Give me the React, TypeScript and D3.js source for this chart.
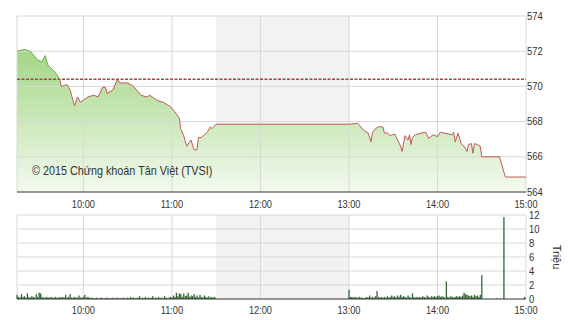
import React from "react";
import * as d3 from "d3";

const priceTimes = [
  "9:15","9:20","9:24","9:27","9:29","9:32","9:34","9:36","9:41","9:44","9:45","9:49","9:51","9:53","9:54","9:56","9:58",
  "10:03","10:07","10:10","10:13","10:15","10:16","10:20","10:23","10:25","10:30","10:34","10:36","10:39","10:43","10:45","10:50","10:54","10:59",
  "11:02","11:05","11:06","11:08","11:10","11:13","11:15","11:17","11:18","11:20","11:24","11:26","11:27","11:30",
  "13:00","13:06","13:10","13:13","13:15","13:16","13:18","13:20","13:23","13:24","13:26","13:28","13:31","13:33","13:35","13:36","13:38","13:40","13:41","13:42","13:43","13:45","13:49","13:52","13:54","13:57",
  "14:00","14:02","14:07","14:10","14:11","14:12","14:14","14:16","14:18","14:20","14:21","14:23","14:24","14:25","14:27","14:29","14:30","14:42","14:46","15:00"
];
const priceValues = [
  572.0,572.1,572.0,571.7,571.5,571.4,571.75,571.2,570.8,570.4,570.0,570.1,569.8,569.2,568.9,569.4,569.1,
  569.4,569.5,569.4,569.95,569.95,569.6,569.8,570.4,570.2,570.2,570.0,569.8,569.5,569.4,569.5,569.2,569.1,568.85,
  568.55,568.2,567.6,567.2,566.6,566.95,566.4,566.4,567.1,567.1,567.4,567.7,567.6,567.85,
  567.85,567.9,567.5,567.35,566.85,567.4,567.6,567.7,567.7,567.35,567.35,567.2,567.3,566.95,566.6,566.3,567.2,566.95,567.25,566.7,567.1,567.25,567.35,567.4,567.05,567.25,
  567.15,567.4,567.3,567.25,567.4,566.85,567.35,566.75,566.6,566.3,566.7,566.75,566.2,566.75,566.7,566.6,566.0,566.0,564.85,564.85
];
const referencePrice = 570.4;

// volume per minute (millions), morning session starting 9:15
const morningVolume = [
  0.6,0.3,0.2,0.7,0.3,0.4,0.2,0.8,0.3,0.2,0.4,0.3,0.2,0.7,0.3,
  0.9,0.8,0.3,0.2,0.2,0.3,0.2,0.2,0.3,0.2,0.2,0.3,0.2,0.2,0.3,
  0.2,0.3,0.2,0.6,0.2,0.3,0.7,0.2,0.2,0.3,0.2,0.2,0.5,0.2,0.2,
  0.3,0.6,0.2,0.3,0.2,0.1,0.2,0.1,0.1,0.2,0.1,0.1,0.2,0.1,0.1,
  0.1,0.2,0.1,0.1,0.1,0.2,0.1,0.1,0.2,0.1,0.1,0.1,0.2,0.1,0.1,
  0.2,0.1,0.3,0.1,0.2,0.1,0.1,0.2,0.4,0.1,0.2,0.1,0.3,0.1,0.2,
  0.1,0.2,0.4,0.1,0.2,0.1,0.3,0.1,0.2,0.1,0.4,0.2,0.1,0.2,0.3,
  0.2,0.5,0.3,0.9,0.4,0.8,0.7,0.3,0.8,0.4,0.5,0.9,0.3,0.5,0.4,
  0.7,0.3,0.5,0.2,0.6,0.3,0.2,0.5,0.3,0.2,0.4,0.2,0.3,0.2,0.3
];
// afternoon session starting 13:00
const afternoonVolume = [
  1.3,0.3,0.3,0.2,0.3,0.2,0.2,0.3,0.2,0.2,0.1,0.2,0.3,0.2,0.5,
  0.2,0.3,0.2,0.4,1.15,0.3,0.2,0.3,0.2,0.3,0.2,0.4,0.2,0.3,0.5,
  0.3,0.4,0.2,0.5,0.3,0.6,0.3,0.4,0.3,0.2,0.5,0.3,0.2,0.8,0.3,
  0.2,0.3,0.2,0.3,0.2,0.4,0.3,0.2,0.5,0.3,0.2,0.4,0.3,0.4,0.3,
  0.4,0.5,0.3,0.4,0.3,0.2,2.5,0.3,0.2,0.4,0.3,0.2,0.3,0.4,0.3,
  0.4,0.3,0.5,0.9,0.7,0.6,0.5,0.4,0.5,0.3,0.6,0.4,0.5,0.3,0.6,3.4
];
const extraVolumeTimes = ["14:40", "14:45", "14:59"];
const extraVolumes = [0.1, 11.7, 0.3];

const timeTicks = ["10:00", "11:00", "12:00", "13:00", "14:00", "15:00"];
const priceTicks = [564, 566, 568, 570, 572, 574];
const volumeTicks = [0, 2, 4, 6, 8, 10, 12];
const lunchBreak = ["11:30", "13:00"];

const toMin = (s: string) => {
  const [h, m] = s.split(":").map(Number);
  return h * 60 + m;
};

function Txt({ x, y, size, anchor, sx, children }: any) {
  return (
    <text transform={`translate(${x},${y}) scale(${sx},1)`} textAnchor={anchor || "start"} dy="0.35em" fontSize={size} fill="#333">
      {children}
    </text>
  );
}

export default function App() {
  const W = 570, H = 320;
  const x = d3.scaleLinear().domain([toMin("9:15"), toMin("15:00")]).range([17, 526]);
  const yP = d3.scaleLinear().domain([564, 574]).range([192, 16]);
  const yV = d3.scaleLinear().domain([0, 12]).range([299, 215]);

  const pts = priceTimes.map((t, i) => ({ t: toMin(t), v: priceValues[i] }));
  const line = d3.line<any>().x(d => x(d.t)).y(d => yP(d.v));
  const area = d3.area<any>().x(d => x(d.t)).y0(yP(564)).y1(d => yP(d.v));
  const refY = yP(referencePrice);

  const vols: { t: number; v: number }[] = [];
  morningVolume.forEach((v, i) => vols.push({ t: toMin("9:15") + i, v }));
  afternoonVolume.forEach((v, i) => vols.push({ t: toMin("13:00") + i, v }));
  extraVolumeTimes.forEach((t, i) => vols.push({ t: toMin(t), v: extraVolumes[i] }));

  const grid = "#d8d8d8";
  const font = "'Liberation Sans', Arial, sans-serif";
  const x0 = x.range()[0], x1 = x.range()[1];
  const lx0 = x(toMin(lunchBreak[0])), lx1 = x(toMin(lunchBreak[1]));

  return (
    <svg width={W} height={H} style={{ position: "absolute", left: 0, top: 0, background: "#fff" }} fontFamily={font}>
      <defs>
        <linearGradient id="g" x1="0" y1="0" x2="0" y2="1">
          <stop offset="0%" stopColor="#a3d685" />
          <stop offset="100%" stopColor="#f4faf0" />
        </linearGradient>
        <clipPath id="above"><rect x={0} y={0} width={W} height={refY} /></clipPath>
        <clipPath id="below"><rect x={0} y={refY} width={W} height={H} /></clipPath>
      </defs>

      <rect x={lx0} y={yP(574)} width={lx1 - lx0} height={yP(564) - yP(574)} fill="#f2f2f2" />
      <rect x={lx0} y={yV(12)} width={lx1 - lx0} height={yV(0) - yV(12)} fill="#f2f2f2" />

      <path d={area(pts) || ""} fill="url(#g)" />

      {priceTicks.slice(1).map(p => (
        <line key={"hp" + p} x1={x0} x2={x1} y1={yP(p)} y2={yP(p)} stroke={grid} />
      ))}
      {timeTicks.map(t => (
        <line key={"vp" + t} x1={x(toMin(t))} x2={x(toMin(t))} y1={yP(574)} y2={yP(564)} stroke={grid} />
      ))}
      <line x1={x0} x2={x0} y1={yP(574)} y2={yP(564)} stroke={grid} />

      <line x1={x0} x2={x1} y1={refY} y2={refY} stroke="#a44545" strokeWidth={1.5} strokeDasharray="3,1.5" />

      <path d={line(pts) || ""} fill="none" stroke="#66b24a" strokeWidth={1} clipPath="url(#above)" />
      <path d={line(pts) || ""} fill="none" stroke="#bf5a55" strokeWidth={1} clipPath="url(#below)" />

      <line x1={x0} x2={x1} y1={yP(564)} y2={yP(564)} stroke="#333" strokeWidth={1} />

      {priceTicks.map(p => (
        <Txt key={"tp" + p} x={x1 + 1} y={yP(p)} size={10.5} sx={0.9}>{p}</Txt>
      ))}
      {timeTicks.map(t => (
        <Txt key={"tx" + t} x={x(toMin(t))} y={204} size={10.5} sx={0.88} anchor="middle">{t}</Txt>
      ))}
      <Txt x={32} y={171} size={12} sx={0.9}>© 2015 Chứng khoán Tân Việt (TVSI)</Txt>

      {volumeTicks.slice(1).map(v => (
        <line key={"hv" + v} x1={x0} x2={x1} y1={yV(v)} y2={yV(v)} stroke={grid} />
      ))}
      {timeTicks.map(t => (
        <line key={"vv" + t} x1={x(toMin(t))} x2={x(toMin(t))} y1={yV(12)} y2={yV(0)} stroke={grid} />
      ))}
      <line x1={x0} x2={x0} y1={yV(12)} y2={yV(0)} stroke={grid} />

      {vols.map((d, i) => (
        <rect key={"b" + i} x={x(d.t) - 0.6} y={yV(d.v)} width={1.3} height={yV(0) - yV(d.v)} fill="#336633" />
      ))}
      <line x1={x0} x2={x1} y1={yV(0)} y2={yV(0)} stroke="#333" strokeWidth={1} />

      {volumeTicks.map(v => (
        <Txt key={"tv" + v} x={x1 + 3} y={yV(v)} size={10.5} sx={0.9}>{v}</Txt>
      ))}
      {timeTicks.map(t => (
        <Txt key={"tx2" + t} x={x(toMin(t))} y={310} size={10.5} sx={0.88} anchor="middle">{t}</Txt>
      ))}
      <text transform={`translate(557,${yV(6)}) rotate(90)`} textAnchor="middle" dy="0.35em" fontSize={11} fill="#333">Triệu</text>
    </svg>
  );
}
